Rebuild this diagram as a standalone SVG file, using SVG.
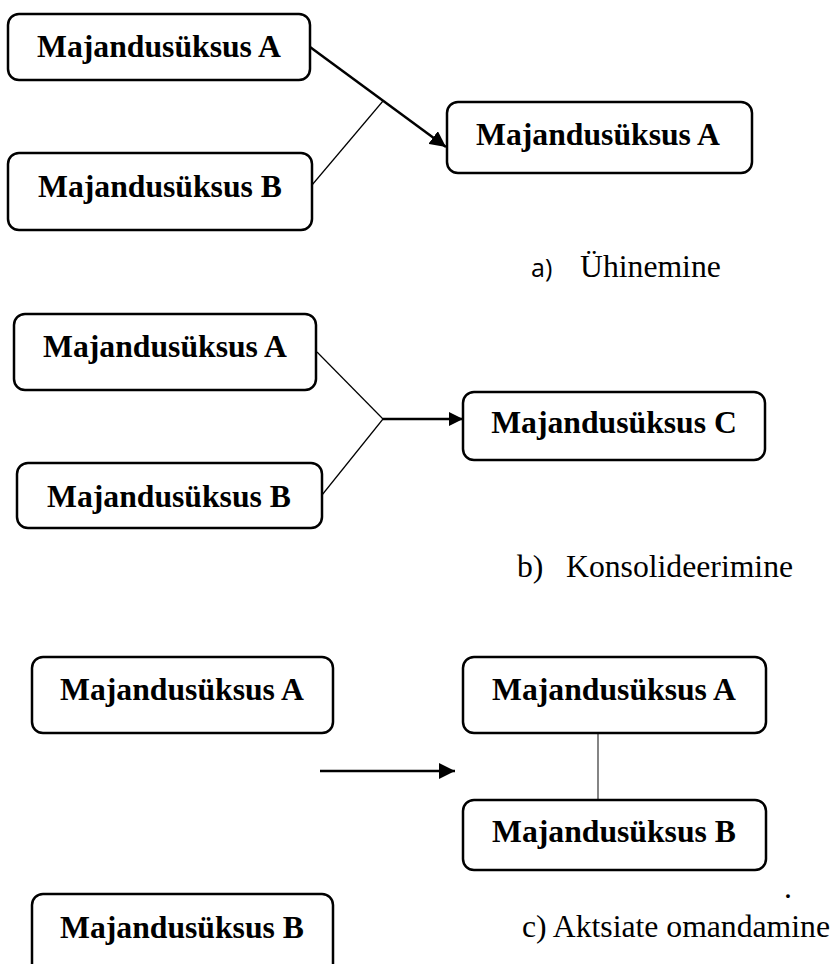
<svg xmlns="http://www.w3.org/2000/svg" width="838" height="964" viewBox="0 0 838 964">
  <style>
    .box { fill: #ffffff; stroke: #000000; stroke-width: 2.5; }
    .lbl { font-family: "Liberation Serif", "Times New Roman", serif; font-weight: bold; font-size: 31.7px; fill: #000000; text-anchor: middle; }
    .cap { font-family: "Liberation Serif", "Times New Roman", serif; font-size: 31.7px; fill: #000000; }
    .capsans { font-family: "Open Sans", "Liberation Sans", sans-serif; font-size: 25px; fill: #000000; }
    .thin { stroke: #000000; stroke-width: 1.2; fill: none; }
    .thick { stroke: #000000; stroke-width: 2.5; fill: none; }
  </style>
  <defs>
    <marker id="head" markerUnits="userSpaceOnUse" markerWidth="18" markerHeight="16" refX="16" refY="8" orient="auto">
      <path d="M0,0 L16,8 L0,16 Z" fill="#000000"/>
    </marker>
    <marker id="headSmall" markerUnits="userSpaceOnUse" markerWidth="16" markerHeight="14" refX="14" refY="7" orient="auto">
      <path d="M0,0 L14,7 L0,14 Z" fill="#000000"/>
    </marker>
  </defs>

  <rect width="838" height="964" fill="#ffffff"/>

  <!-- connectors -->
  <g id="connectors">
    <!-- a) merger -->
    <line class="thick" x1="310" y1="47" x2="446" y2="147" marker-end="url(#head)"/>
    <line class="thin" x1="312" y1="185" x2="383" y2="101"/>
    <!-- b) consolidation -->
    <line class="thin" x1="317" y1="352" x2="383" y2="419"/>
    <line class="thin" x1="322" y1="495" x2="383" y2="419"/>
    <line class="thick" x1="383" y1="419" x2="463" y2="419" marker-end="url(#headSmall)"/>
    <!-- c) share acquisition -->
    <line class="thick" x1="320" y1="771" x2="455" y2="771" marker-end="url(#head)"/>
    <line x1="598" y1="733" x2="598" y2="800" stroke="#333333" stroke-width="1.2"/>
  </g>

  <!-- a) Ühinemine -->
  <g id="a-entity-a">
    <rect class="box" x="8" y="14" width="302" height="66" rx="11"/>
    <text class="lbl" x="159" y="57">Majandusüksus A</text>
  </g>
  <g id="a-entity-b">
    <rect class="box" x="8" y="153" width="304" height="77" rx="11"/>
    <text class="lbl" x="160" y="197">Majandusüksus B</text>
  </g>
  <g id="a-result">
    <rect class="box" x="447" y="102" width="305" height="71" rx="11"/>
    <text class="lbl" x="598" y="145">Majandusüksus A</text>
  </g>
  <g id="a-caption">
    <text class="capsans" x="531" y="277">a)</text>
    <text class="cap" x="580" y="277">Ühinemine</text>
  </g>

  <!-- b) Konsolideerimine -->
  <g id="b-entity-a">
    <rect class="box" x="14" y="314" width="302" height="76" rx="11"/>
    <text class="lbl" x="165" y="357">Majandusüksus A</text>
  </g>
  <g id="b-entity-b">
    <rect class="box" x="17" y="463" width="305" height="65" rx="11"/>
    <text class="lbl" x="169" y="507">Majandusüksus B</text>
  </g>
  <g id="b-result">
    <rect class="box" x="463" y="392" width="302" height="68" rx="11"/>
    <text class="lbl" x="614" y="433">Majandusüksus C</text>
  </g>
  <g id="b-caption">
    <text class="cap" x="517" y="577">b)</text>
    <text class="cap" x="566" y="577">Konsolideerimine</text>
  </g>

  <!-- c) Aktsiate omandamine -->
  <g id="c-entity-a">
    <rect class="box" x="32" y="657" width="301" height="76" rx="11"/>
    <text class="lbl" x="182" y="700">Majandusüksus A</text>
  </g>
  <g id="c-entity-b">
    <rect class="box" x="32" y="894" width="301" height="90" rx="11"/>
    <text class="lbl" x="182" y="938">Majandusüksus B</text>
  </g>
  <g id="c-parent">
    <rect class="box" x="463" y="657" width="303" height="76" rx="11"/>
    <text class="lbl" x="614" y="700">Majandusüksus A</text>
  </g>
  <g id="c-subsidiary">
    <rect class="box" x="463" y="800" width="303" height="70" rx="11"/>
    <text class="lbl" x="614" y="842">Majandusüksus B</text>
  </g>
  <g id="c-caption">
    <text class="cap" x="784" y="898" font-size="12px">.</text>
    <text class="cap" x="522" y="937">c) Aktsiate omandamine</text>
  </g>
</svg>
